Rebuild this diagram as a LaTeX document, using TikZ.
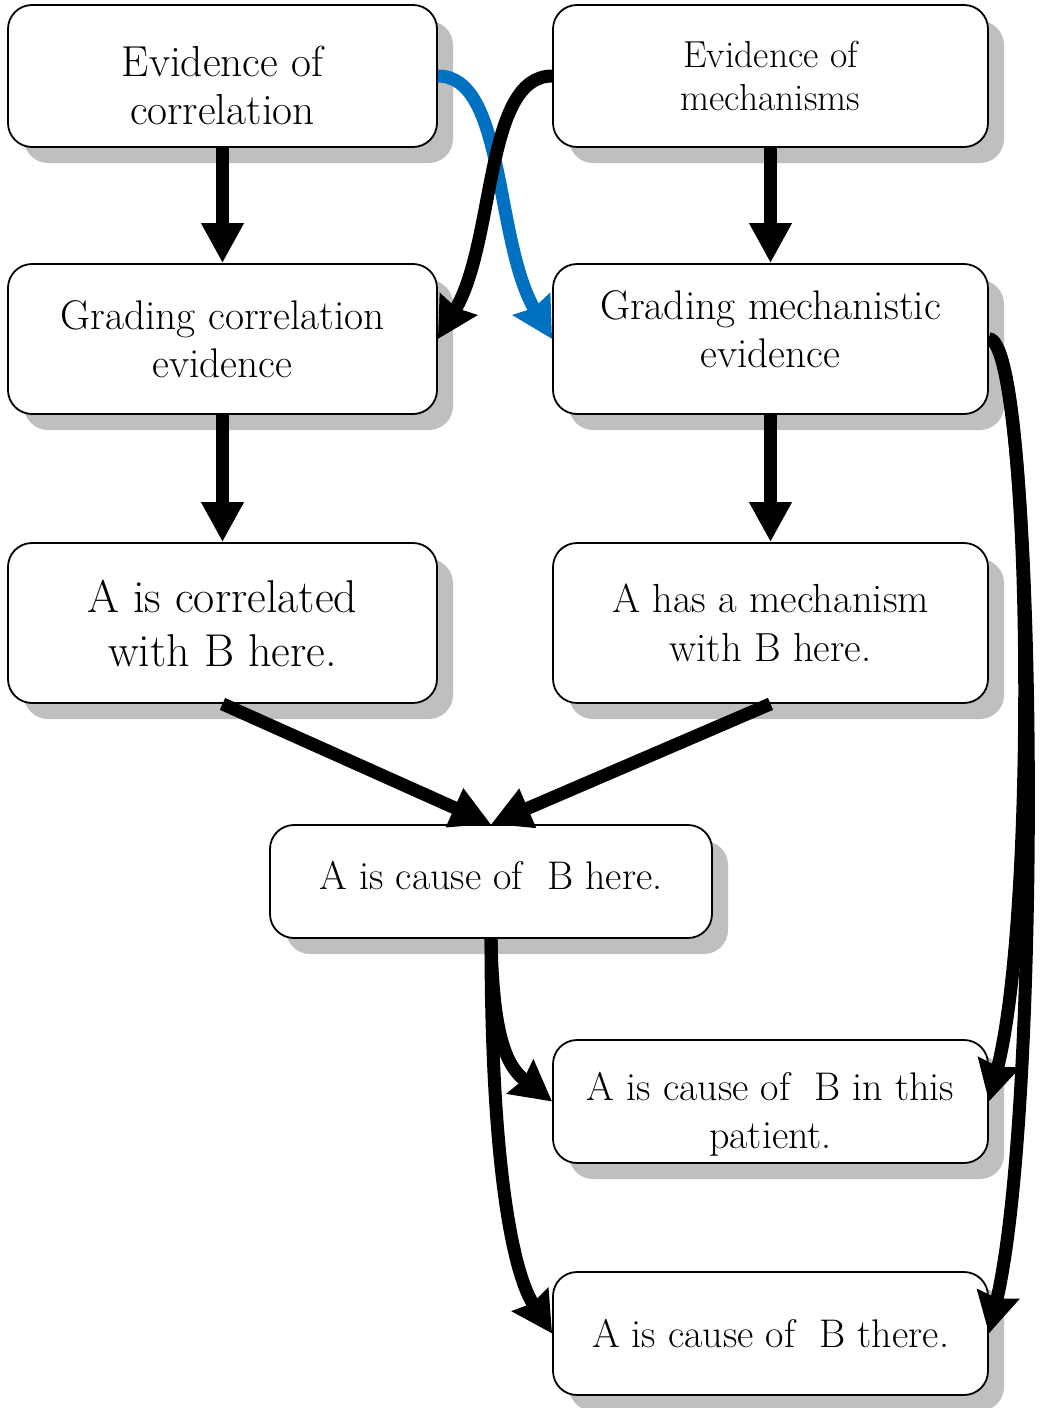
\documentclass[tikz,border=0pt]{standalone}
\usepackage{fontspec}
\usepackage{tikz}
\usetikzlibrary{arrows.meta, shadows}

\begin{document}
\begin{tikzpicture}[
  x=0.5pt, y=-0.5pt,
  box/.style={draw, line width=0.9pt, rounded corners=12pt, fill=white,
              drop shadow={shadow xshift=8pt, shadow yshift=-8pt,
                           fill=black!25, opacity=1},
              align=center, inner sep=2pt,
              font=\fontsize{20}{24}\selectfont},
  lbox/.style={box, minimum width=214.5pt},
  rbox/.style={box, minimum width=217.5pt},
  arr/.style={-{Triangle[length=20pt, width=20pt]}, line width=6.5pt},
  carr/.style={arr, -{Stealth[length=20pt, width=21pt, inset=2pt]}},
]
\useasboundingbox (0,0) rectangle (1044,1408);

% Evidence
\node[lbox, minimum height=71pt, font=\fontsize{21.7}{24}\selectfont]
  (evcor) at (222.5,76) {\rule{0pt}{25pt}Evidence of\\correlation};
\node[rbox, minimum height=71pt, font=\fontsize{18.8}{21.5}\selectfont]
  (evmech) at (770.5,76) {Evidence of\\mechanisms};

% Grading
\node[lbox, minimum height=75pt, font=\fontsize{20.7}{24}\selectfont]
  (grcor) at (222.5,339) {Grading correlation\\evidence};
\node[rbox, minimum height=75pt, font=\fontsize{20.7}{24}\selectfont]
  (grmech) at (770.5,339) {Grading mechanistic\\evidence\rule[-10pt]{0pt}{10pt}};

% Claims here
\node[lbox, minimum height=80pt, font=\fontsize{23}{27}\selectfont]
  (iscor) at (222.5,623) {A is correlated\\with B here.};
\node[rbox, minimum height=80pt, font=\fontsize{20.3}{24.5}\selectfont]
  (ismech) at (770.5,623) {A has a mechanism\\with B here.};

% Causes
\node[box, minimum width=221pt, minimum height=56.5pt] (cshere) at (491,881.5)
  {A is cause of~ B here.\rule[-6pt]{0pt}{6pt}};
\node[rbox, minimum height=61.5pt] (cspat) at (770.5,1101.5)
  {\rule{0pt}{27pt}A is cause of~ B in this\\patient.};
\node[rbox, minimum height=61.5pt] (csthere) at (770.5,1333.5)
  {A is cause of~ B there.};

% Straight edges
\draw[arr] (evcor)  -- (grcor);
\draw[arr] (evmech) -- (grmech);
\draw[arr] (grcor)  -- (iscor);
\draw[arr] (grmech) -- (ismech);
\draw[arr] (iscor.south)  -- (cshere.north);
\draw[arr] (ismech.south) -- (cshere.north);

% Crossing edges
\draw[carr, color={rgb,255:red,0;green,112;blue,192}]
  (evcor.east) .. controls +(68,0) and +(-58,-98) .. (grmech.west);
\draw[carr]
  (evmech.west) .. controls +(-68,0) and +(58,-98) .. (grcor.east);

% Right edges
\draw[carr] (grmech.east) .. controls +(42,0) and +(50,-195) .. (cspat.east);
\draw[carr] (grmech.east) .. controls +(47,0) and +(55,-235) .. (csthere.east);

% Bottom edges
\draw[carr] (cshere.south) .. controls +(2,100) and +(-45,-35) .. (cspat.west);
\draw[carr] (cshere.south) .. controls +(0,210) and +(-42,-65) .. (csthere.west);
\end{tikzpicture}
\end{document}
